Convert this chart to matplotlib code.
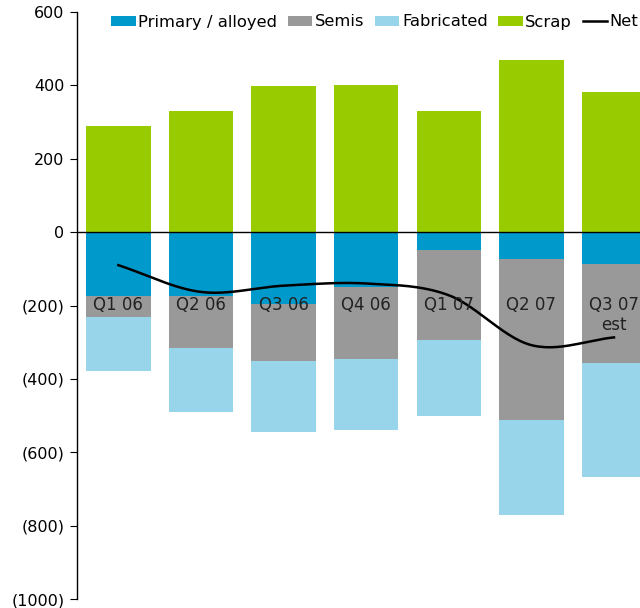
import numpy as np
import matplotlib
matplotlib.use("Agg")
import matplotlib.pyplot as plt
from matplotlib.ticker import FuncFormatter

categories = ["Q1 06", "Q2 06", "Q3 06", "Q4 06", "Q1 07", "Q2 07", "Q3 07\nest"]
primary = [-174, -174, -195, -149, -49, -74, -87]
semis = [-58, -141, -157, -197, -245, -438, -269]
fabricated = [-146, -175, -193, -193, -207, -258, -311]
scrap = [289, 330, 398, 400, 330, 469, 382]
net = [-90, -163, -146, -140, -172, -308, -287]

c_primary = "#0099CC"
c_semis = "#999999"
c_fab = "#99D5EA"
c_scrap = "#99CC00"

plt.rcParams["font.family"] = ["DejaVu Sans"]

fig = plt.figure(figsize=(6.4, 6.08), dpi=100)
ax = fig.add_axes([77 / 640, 1 - 599 / 608, 1 - 77 / 640, (599 - 12) / 608])

x = np.arange(len(categories))
w = 0.78
prim = np.array(primary, float)
sem = np.array(semis, float)
fab = np.array(fabricated, float)
ax.bar(x, prim, w, color=c_primary, label="Primary / alloyed", zorder=2)
ax.bar(x, sem, w, bottom=prim, color=c_semis, label="Semis", zorder=2)
ax.bar(x, fab, w, bottom=prim + sem, color=c_fab, label="Fabricated", zorder=2)
ax.bar(x, scrap, w, color=c_scrap, label="Scrap", zorder=2)

# smoothed net line (Catmull-Rom through the data points)
def catmull(xs, ys, n=30):
    px = np.concatenate([[2 * xs[0] - xs[1]], xs, [2 * xs[-1] - xs[-2]]])
    py = np.concatenate([[2 * ys[0] - ys[1]], ys, [2 * ys[-1] - ys[-2]]])
    ox, oy = [], []
    for i in range(1, len(px) - 2):
        t = np.linspace(0, 1, n)
        for arr, out in ((px, ox), (py, oy)):
            p0, p1, p2, p3 = arr[i - 1], arr[i], arr[i + 1], arr[i + 2]
            out.extend(0.5 * ((2 * p1) + (-p0 + p2) * t + (2 * p0 - 5 * p1 + 4 * p2 - p3) * t ** 2
                              + (-p0 + 3 * p1 - 3 * p2 + p3) * t ** 3))
    return np.array(ox), np.array(oy)

sx, sy = catmull(x.astype(float), np.array(net, float))
ax.plot(sx, sy, color="black", lw=1.8, label="Net", zorder=4)

ax.axhline(0, color="black", lw=1, zorder=3)

for i, lab in enumerate(categories):
    ax.text(i, -175, lab, ha="center", va="top", fontsize=12, color="#222222",
            linespacing=1.15, zorder=5)

ax.set_xlim(-0.5, 6.315)
ax.set_ylim(-1000, 600)
ax.set_yticks(np.arange(-1000, 601, 200))
ax.yaxis.set_major_formatter(FuncFormatter(lambda v, p: f"({abs(int(v))})" if v < 0 else f"{int(v)}"))
ax.tick_params(axis="y", direction="out", length=5, labelsize=11.5, colors="black", pad=4)
ax.set_xticks([])
for s in ["top", "right", "bottom"]:
    ax.spines[s].set_visible(False)
ax.spines["left"].set_linewidth(1)

handles, labels = ax.get_legend_handles_labels()
order = [1, 2, 3, 4, 0]
leg = fig.legend([handles[i] for i in order], [labels[i] for i in order],
                 loc="center left", bbox_to_anchor=(111 / 640, 1 - 22 / 608), ncol=5,
                 frameon=False, fontsize=11.8, handlelength=1.5, handleheight=0.6,
                 handletextpad=0.15, columnspacing=0.65, borderaxespad=0, borderpad=0)

fig.savefig("out.png", dpi=100)
